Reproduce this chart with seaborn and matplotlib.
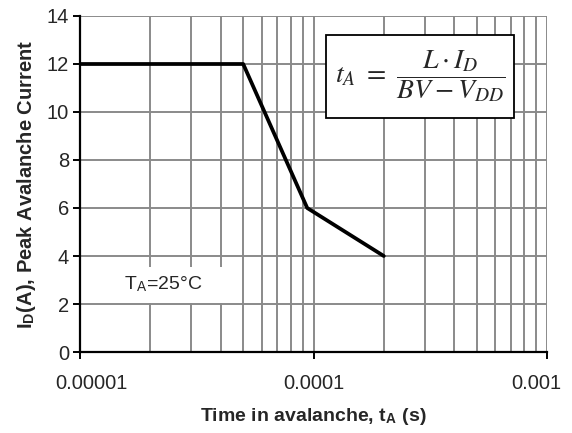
import matplotlib
matplotlib.use("Agg")
import matplotlib.pyplot as plt
import matplotlib.ticker as mticker
from matplotlib.patches import Rectangle
import matplotlib.transforms as mtransforms
import numpy as np
import pandas as pd
import seaborn as sns

# Data
time_s = [1e-5, 5e-5, 9.4e-5, 2e-4]
current_a = [12, 12, 6, 4]
x_ticks = [1e-5, 1e-4, 1e-3]
x_tick_labels = ["0.00001", "0.0001", "0.001"]
y_ticks = [0, 2, 4, 6, 8, 10, 12, 14]

sns.set_theme(style="white")
plt.rcParams["font.family"] = ["Liberation Sans", "DejaVu Sans"]
plt.rcParams["mathtext.fontset"] = "stix"

fig = plt.figure(figsize=(5.72, 4.33), dpi=100)
ax = fig.add_axes([80/572, 1-352/433, (547-80)/572, (352-16)/433])

df = pd.DataFrame({"t": time_s, "i": current_a})
sns.lineplot(data=df, x="t", y="i", ax=ax, color="black", lw=2.7, zorder=5,
             sort=False)

ax.set_xscale("log")
ax.set_xlim(1e-5, 1e-3)
ax.set_ylim(0, 14)
ax.set_yticks(y_ticks)
ax.set_xticks(x_ticks)
ax.set_xticklabels(x_tick_labels)
ax.xaxis.set_minor_locator(mticker.LogLocator(base=10, subs=np.arange(2, 10)))
ax.xaxis.set_minor_formatter(mticker.NullFormatter())

gcol = "#8a8a8a"
ax.grid(True, which="major", axis="both", color=gcol, lw=1.4)
ax.grid(True, which="minor", axis="x", color=gcol, lw=1.4)
ax.set_axisbelow(True)

for s in ["top", "right"]:
    ax.spines[s].set_visible(False)
for s in ["left", "bottom"]:
    ax.spines[s].set_color("black")
    ax.spines[s].set_linewidth(1.6)
    ax.spines[s].set_zorder(6)

ax.tick_params(axis="both", which="major", direction="out", length=5, width=1.4,
               color="black", labelsize=14.5, left=True, bottom=True, pad=3)
ax.tick_params(axis="x", which="major", pad=11)
ax.tick_params(axis="x", which="minor", length=0)

# shift edge tick labels like the reference
labs = ax.get_xticklabels()
labs[0].set_transform(labs[0].get_transform() + mtransforms.ScaledTranslation(11/100, 0, fig.dpi_scale_trans))
labs[-1].set_transform(labs[-1].get_transform() + mtransforms.ScaledTranslation(-11/100, 0, fig.dpi_scale_trans))

ax.set_xlabel("Time in avalanche, t$_\\mathregular{A}$ (s)", fontsize=14, fontweight="bold", labelpad=9)
ax.set_ylabel("I$_\\mathregular{D}$(A), Peak Avalanche Current", fontsize=14.5, fontweight="bold", labelpad=6)

# formula box
def px2ax(x, y):
    return ((x-80)/(547-80), (352-y)/(352-16))

x0, y0 = px2ax(326, 118)
x1, y1 = px2ax(514, 35)
ax.add_patch(Rectangle((x0, y0), x1-x0, y1-y0, transform=ax.transAxes,
                       facecolor="white", edgecolor="black", lw=1.3, zorder=7))
ax.text((x0+x1)/2, (y0+y1)/2, r"$t_A\ =\ \dfrac{L\cdot I_D}{BV-V_{DD}}$",
        transform=ax.transAxes, ha="center", va="center", fontsize=20, zorder=8)

# T_A box
bx0, by0 = px2ax(81, 303)
bx1, by1 = px2ax(232, 267)
ax.add_patch(Rectangle((bx0, by0), bx1-bx0, by1-by0, transform=ax.transAxes,
                       facecolor="white", edgecolor="none", zorder=3))
tx, ty = px2ax(163, 284)
ax.text(tx, ty, "T$_\\mathregular{A}$=25°C", transform=ax.transAxes, ha="center",
        va="center", fontsize=14, zorder=8)

fig.savefig("out.png", dpi=100)
